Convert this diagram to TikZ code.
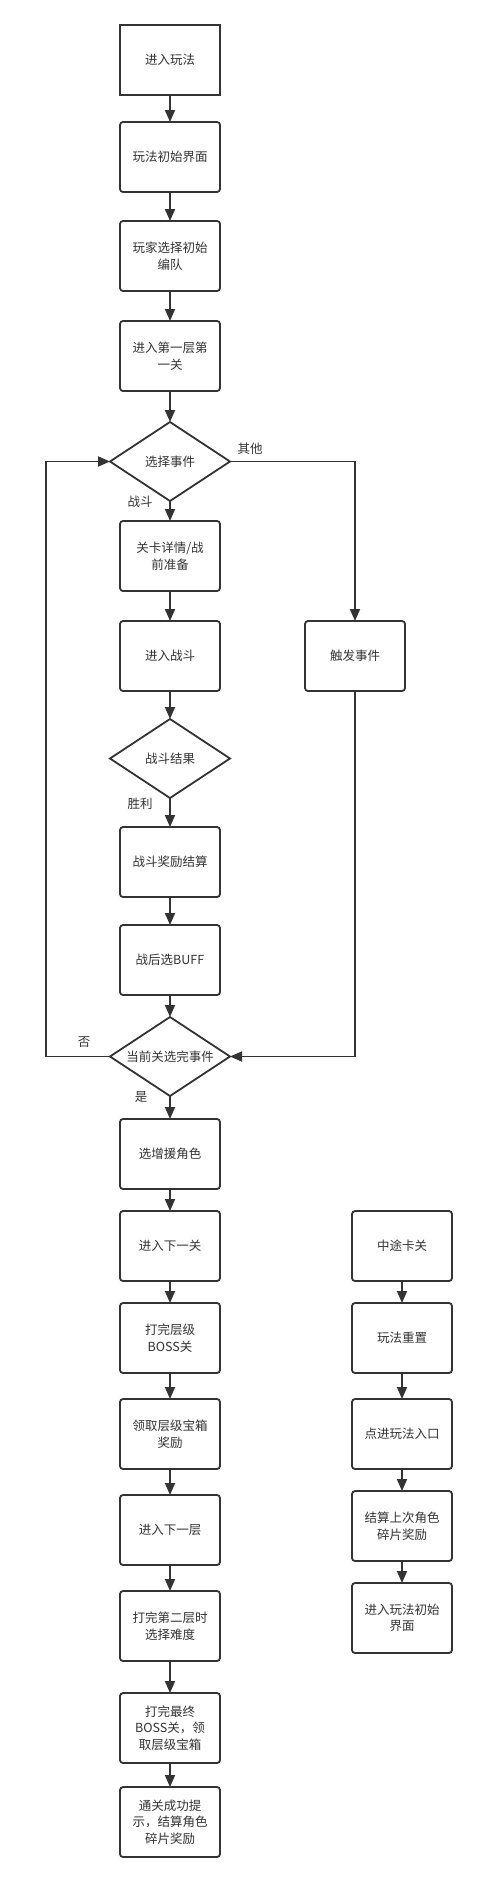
\documentclass[tikz,border=0pt]{standalone}
\usepackage{fontspec}
\setmainfont{Noto Sans CJK SC}
\usetikzlibrary{positioning, arrows.meta, shapes.geometric}
\definecolor{lineGray}{HTML}{333333}
\tikzstyle{stepbox} =[draw=lineGray, line width=1.8pt, rounded corners=3pt, minimum width=100pt, minimum height=70pt, align=center, text=lineGray, font=\fontsize{12.5}{16.5}\selectfont, inner sep=2pt, outer sep=0pt]
\tikzstyle{choice} =[diamond, draw=lineGray, line width=1.8pt, aspect=1.52, minimum width=120pt, minimum height=79pt, inner sep=0pt, outer sep=0pt, align=center, text=lineGray, font=\fontsize{12.5}{16.5}\selectfont]
\tikzstyle{lbl} =[text=lineGray, font=\fontsize{12.5}{15}\selectfont, inner sep=0pt]
\tikzstyle{arr} =[-{Triangle[length=12pt, width=10pt]}, line width=1.8pt, draw=lineGray]

\begin{document}
\begin{tikzpicture}[x=1pt, y=-1pt]
\useasboundingbox (0,0) rectangle (477,1882);
\fill[white] (0,0) rectangle (477,1882);

% main column
\node (start) [stepbox, rounded corners=0pt] at (170,60) {进入玩法};
\node (init) [stepbox, below=27pt of start] {玩法初始界面};
\node (team) [stepbox, below=29pt of init] {玩家选择初始\\编队};
\node (first) [stepbox, below=30pt of team] {进入第一层第\\一关};
\node (sel) [choice, below=31pt of first] {选择事件};
\node (prep) [stepbox, below=20pt of sel] {关卡详情/战\\前准备};
\node (fight) [stepbox, below=30pt of prep] {进入战斗};
\node (res) [choice, below=28pt of fight] {战斗结果};
\node (reward) [stepbox, below=29pt of res] {战斗奖励结算};
\node (buff) [stepbox, below=28pt of reward] {战后选BUFF};
\node (cur) [choice, below=22pt of buff] {当前关选完事件};
\node (help) [stepbox, below=23pt of cur] {选增援角色};
\node (nextLv) [stepbox, below=22pt of help] {进入下一关};
\node (boss) [stepbox, below=22pt of nextLv] {打完层级\\BOSS关};
\node (chest) [stepbox, below=26pt of boss] {领取层级宝箱\\奖励};
\node (nextFl) [stepbox, below=26pt of chest] {进入下一层};
\node (diff) [stepbox, below=26pt of nextFl] {打完第二层时\\选择难度};
\node (final) [stepbox, below=32pt of diff] {打完最终\\BOSS关，领\\取层级宝箱};
\node (clear) [stepbox, below=24pt of final] {通关成功提\\示，结算角色\\碎片奖励};

% side branch
\node (trig) [stepbox, right=85pt of fight] {触发事件};

% restart column
\node (stuck) [stepbox, right=132pt of nextLv] {中途卡关};
\node (reset) [stepbox, below=22pt of stuck] {玩法重置};
\node (entry) [stepbox, below=26pt of reset] {点进玩法入口};
\node (settle) [stepbox, below=22pt of entry] {结算上次角色\\碎片奖励};
\node (back) [stepbox, below=22pt of settle] {进入玩法初始\\界面};

% labels
\node (lblOther) [lbl] at ([xshift=20pt, yshift=13pt]sel.east) {其他};
\node (lblFight) [lbl] at ([xshift=-30pt, yshift=-1pt]sel.south) {战斗};
\node (lblWin) [lbl] at ([xshift=-30pt, yshift=-6pt]res.south) {胜利};
\node (lblNo) [lbl] at ([xshift=-26pt, yshift=14pt]cur.west) {否};
\node (lblYes) [lbl] at ([xshift=-29pt, yshift=-1pt]cur.south) {是};

\coordinate (loopL) at ([xshift=-64pt]cur.west);

\draw[arr] (start) -- (init);
\draw[arr] (init) -- (team);
\draw[arr] (team) -- (first);
\draw[arr] (first) -- (sel);
\draw[arr] (sel) -- (prep);
\draw[arr] (prep) -- (fight);
\draw[arr] (fight) -- (res);
\draw[arr] (res) -- (reward);
\draw[arr] (reward) -- (buff);
\draw[arr] (buff) -- (cur);
\draw[arr] (cur) -- (help);
\draw[arr] (help) -- (nextLv);
\draw[arr] (nextLv) -- (boss);
\draw[arr] (boss) -- (chest);
\draw[arr] (chest) -- (nextFl);
\draw[arr] (nextFl) -- (diff);
\draw[arr] (diff) -- (final);
\draw[arr] (final) -- (clear);

\draw[arr] (sel.east) -| (trig.north);
\draw[arr] (trig.south) |- (cur.east);
\draw[arr] (cur.west) -- (loopL) |- (sel.west);

\draw[arr] (stuck) -- (reset);
\draw[arr] (reset) -- (entry);
\draw[arr] (entry) -- (settle);
\draw[arr] (settle) -- (back);
\end{tikzpicture}
\end{document}
